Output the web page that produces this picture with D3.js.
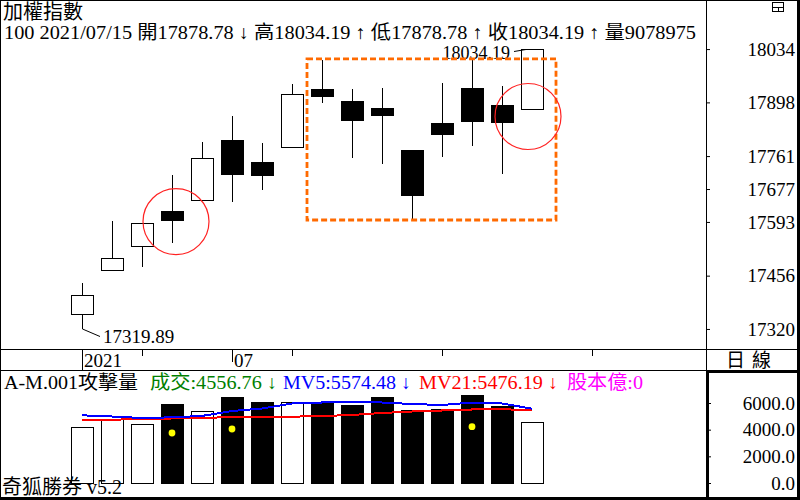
<!DOCTYPE html>
<html>
<head>
<meta charset="utf-8">
<script src="https://cdn.jsdelivr.net/npm/d3@7"></script>
<style>
  body { margin: 0; background: #fff; }
  svg text { font-family: "Liberation Serif", "Noto Sans CJK TC", serif; fill: #000; }
</style>
</head>
<body>
<div id="chart"></div>
<script>
// 日期 / K線資料 (加權指數)
const dates = ["2021/06/24","2021/06/25","2021/06/28","2021/06/29","2021/06/30","2021/07/01","2021/07/02","2021/07/05",
               "2021/07/06","2021/07/07","2021/07/08","2021/07/09","2021/07/12","2021/07/13","2021/07/14","2021/07/15"]
const openP  = [17357.4, 17469.7, 17530.9, 17620.9, 17648.2, 17799.5, 17745.9, 17783.4, 17929.6, 17901.5, 17881.2, 17776.5, 17842.9, 17932.2, 17891.3, 17878.78]
const highP  = [17436.5, 17595.4, 17590.3, 17712.8, 17797.0, 17863.3, 17794.4, 17944.9, 18006.1, 17932.2, 17934.7, 17776.5, 17947.5, 18006.1, 17939.8, 18034.19]
const lowP   = [17319.89, 17469.7, 17478.8, 17540.1, 17648.2, 17644.7, 17675.3, 17783.4, 17897.2, 17756.9, 17741.6, 17599.8, 17759.5, 17787.5, 17716.1, 17878.78]
const closeP = [17405.9, 17500.2, 17590.3, 17596.2, 17753.6, 17713.5, 17711.0, 17918.6, 17912.5, 17851.3, 17865.8, 17660.0, 17815.6, 17848.7, 17846.2, 18034.19]

// 成交量 (億) 與均量
const volume = [4177, 4750, 4425, 5925, 5375, 6450, 6075, 6050, 6025, 5850, 6450, 5475, 5550, 6600, 5775, 4556.76]
const mv5  = [5077, 4988, 4875, 4925, 5030, 5400, 5588, 5963, 6038, 6053, 6038, 5925, 5850, 6038, 5963, 5574.48]
const mv21 = [4748, 4755, 4778, 4838, 4875, 4950, 4965, 4973, 5025, 5100, 5250, 5363, 5438, 5513, 5528, 5476.19]
// 攻擊量 黃點
const attackDates  = ["2021/06/29", "2021/07/01", "2021/07/13"]
const attackValues = [3750, 4050, 4225]

// 座標刻度
const priceTicks  = [18034, 17898, 17761, 17677, 17593, 17456, 17320]
const volumeTicks = [6000, 4000, 2000, 0]
const axisDays    = [...dates, "2021/07/16", "2021/07/19"]   // 日期軸延伸到未來兩個交易日
const weekTicks   = ["2021/06/28", "2021/07/05", "2021/07/12", "2021/07/19"]
const monthTicks  = ["2021/06/24", "2021/07/01"]
const monthLabels = ["2021", "07"]

// 標註 (圈選 / 框選)
const circleDates  = ["2021/06/29", "2021/07/15"]
const circlePrices = [17594, 17862]
const boxDates  = ["2021/07/06", "2021/07/15"]
const boxPrices = [17598, 18009]

const W = 800, H = 500
const svg = d3.select("#chart").append("svg")
    .attr("width", W).attr("height", H)

const x  = d3.scalePoint().domain(axisDays).range([82, 592])
const y  = d3.scaleLinear().domain([17319.89, 18034.19]).range([329, 49])
const yv = d3.scaleLinear().domain([0, 6000]).range([483, 403])

const data = dates.map((d, i) => ({
    date: d, o: openP[i], h: highP[i], l: lowP[i], c: closeP[i], v: volume[i],
    up: closeP[i] >= openP[i]
}))

// ---- 外框 ----
const frame = svg.append("g").attr("shape-rendering", "crispEdges")
frame.append("line").attr("x1", 0.5).attr("x2", 0.5).attr("y1", 0).attr("y2", H).attr("stroke", "#000")
frame.append("line").attr("x1", 0).attr("x2", W).attr("y1", 0.5).attr("y2", 0.5).attr("stroke", "#000")
frame.append("rect").attr("x", 797).attr("y", 0).attr("width", 3).attr("height", H).attr("fill", "#000")
frame.append("rect").attr("x", 0).attr("y", 497).attr("width", W).attr("height", 3).attr("fill", "#000")
frame.append("line").attr("x1", 706.5).attr("x2", 706.5).attr("y1", 0).attr("y2", 370).attr("stroke", "#000")
frame.append("line").attr("x1", 0).attr("x2", W).attr("y1", 349.5).attr("y2", 349.5).attr("stroke", "#000")
frame.append("line").attr("x1", 0).attr("x2", W).attr("y1", 370.5).attr("y2", 370.5).attr("stroke", "#000")
frame.append("rect").attr("x", 706).attr("y", 370).attr("width", 3).attr("height", 130).attr("fill", "#000")
frame.append("rect").attr("x", 706).attr("y", 370).attr("width", 94).attr("height", 3).attr("fill", "#000")

// 右上角小圖示
frame.append("path")
    .attr("d", "M772.5,2.5H783.5V11.5H772.5Z M772.5,7.5H783.5 M778.5,7.5V11.5")
    .attr("fill", "none").attr("stroke", "#000")

// ---- 標題 ----
svg.append("text").attr("x", 3).attr("y", 19).attr("font-size", 20).text("加權指數")
const last = data[data.length - 1]
const f2 = d3.format(".2f")
const headParts = [
    ["100 " + last.date + " 開" + f2(last.o) + " ", false], ["↓", true],
    [" 高" + f2(last.h) + " ", false], ["↑", true],
    [" 低" + f2(last.l) + " ", false], ["↑", true],
    [" 收" + f2(last.c) + " ", false], ["↑", true],
    [" 量9078975", false]
]
svg.append("text").attr("x", 4).attr("y", 39).attr("font-size", 19)
    .attr("textLength", 692).attr("lengthAdjust", "spacingAndGlyphs")
    .selectAll("tspan").data(headParts).join("tspan")
    .attr("font-weight", d => d[1] ? "bold" : null)
    .text(d => d[0])

// ---- K線 ----
const kg = svg.append("g").attr("shape-rendering", "crispEdges")
kg.selectAll(".wick").data(data).join("line")
    .attr("class", "wick")
    .attr("x1", d => Math.round(x(d.date)) + 0.5)
    .attr("x2", d => Math.round(x(d.date)) + 0.5)
    .attr("y1", d => y(d.h))
    .attr("y2", d => y(d.l))
    .attr("stroke", "#000")
kg.selectAll(".body").data(data).join("rect")
    .attr("class", "body")
    .attr("x", d => Math.round(x(d.date)) - 10.5)
    .attr("width", 22)
    .attr("y", d => y(Math.max(d.o, d.c)))
    .attr("height", d => Math.max(2, Math.abs(y(d.o) - y(d.c))))
    .attr("fill", d => d.up ? "#fff" : "#000")
    .attr("stroke", "#000")

// 最低 / 最高 標示
const lowest = data[d3.minIndex(data, d => d.l)]
const highest = data[d3.maxIndex(data, d => d.h)]
svg.append("path")
    .attr("d", `M${x(lowest.date) + 0.5},${y(lowest.l)}L${x(lowest.date) + 18},${y(lowest.l) + 7.5}`)
    .attr("stroke", "#000").attr("fill", "none")
svg.append("text").attr("x", x(lowest.date) + 21).attr("y", y(lowest.l) + 14).attr("font-size", 19)
    .text(f2(lowest.l))
svg.append("path")
    .attr("d", `M${x(highest.date) - 18},${y(highest.h) + 2.5}L${x(highest.date) - 6},${y(highest.h) + 0.5}`)
    .attr("stroke", "#000").attr("fill", "none")
svg.append("text").attr("x", x(highest.date) - 22).attr("y", y(highest.h) + 10).attr("font-size", 18)
    .attr("text-anchor", "end")
    .text(f2(highest.h))

// 標註
svg.append("rect")
    .attr("x", x(boxDates[0]) - 15).attr("y", y(boxPrices[1]))
    .attr("width", x(boxDates[1]) + 24 - (x(boxDates[0]) - 15))
    .attr("height", y(boxPrices[0]) - y(boxPrices[1]))
    .attr("fill", "none").attr("stroke", "#ff6a00").attr("stroke-width", 2.8)
    .attr("stroke-dasharray", "6,3")
svg.selectAll(".mark").data(circleDates).join("circle")
    .attr("class", "mark")
    .attr("cx", (d, i) => x(d) + (i === 0 ? 4 : -4))
    .attr("cy", (d, i) => y(circlePrices[i]))
    .attr("r", 33)
    .attr("fill", "none").attr("stroke", "#f22").attr("stroke-width", 1.2)

// ---- 價格軸 ----
const yAxis = svg.append("g").attr("transform", "translate(706,0)")
    .call(d3.axisRight(y).tickValues(priceTicks).tickSize(4).tickFormat(d3.format("d")))
yAxis.select(".domain").remove()
yAxis.selectAll("text").attr("x", 89).attr("text-anchor", "end")
    .attr("font-size", 19).attr("font-family", null)

// ---- 日期軸 ----
const dg = svg.append("g").attr("shape-rendering", "crispEdges")
dg.selectAll(".wk").data(weekTicks).join("line")
    .attr("x1", d => Math.round(x(d)) + 0.5).attr("x2", d => Math.round(x(d)) + 0.5)
    .attr("y1", 350).attr("y2", 356).attr("stroke", "#000")
dg.selectAll(".mo").data(monthTicks).join("line")
    .attr("x1", d => Math.round(x(d)) + 0.5).attr("x2", d => Math.round(x(d)) + 0.5)
    .attr("y1", 350).attr("y2", (d, i) => i === 0 ? 370 : 362).attr("stroke", "#000")
svg.selectAll(".molab").data(monthTicks).join("text")
    .attr("x", d => x(d) + 2).attr("y", 367).attr("font-size", 19)
    .text((d, i) => monthLabels[i])
svg.append("text").attr("x", 726).attr("y", 367).attr("font-size", 19)
    .attr("textLength", 45).attr("lengthAdjust", "spacing").text("日線")

// ---- 成交量 ----
const vh = [
    {t: "A-M.001攻擊量", x: 4, w: 134, c: "#000"},
    {t: `成交:${f2(last.v)} ↓`, x: 150, w: 127, c: "#008000"},
    {t: `MV5:${f2(mv5[mv5.length - 1])} ↓`, x: 283, w: 128, c: "#0000ff"},
    {t: `MV21:${f2(mv21[mv21.length - 1])} ↓`, x: 419, w: 139, c: "#ff0000"},
    {t: "股本億:0", x: 567, w: 76, c: "#ff00ff"}
]
svg.selectAll(".vh").data(vh).join("text")
    .attr("x", d => d.x).attr("y", 389).attr("font-size", 19)
    .attr("textLength", d => d.w).attr("lengthAdjust", "spacingAndGlyphs")
    .style("fill", d => d.c).text(d => d.t)

const vg = svg.append("g").attr("shape-rendering", "crispEdges")
vg.selectAll(".vol").data(data).join("rect")
    .attr("x", d => Math.round(x(d.date)) - 10.5)
    .attr("width", 22)
    .attr("y", d => yv(d.v))
    .attr("height", d => yv(0) - yv(d.v))
    .attr("fill", d => d.up ? "#fff" : "#000")
    .attr("stroke", "#000")

const line = d3.line().x(d => x(d.date)).y(d => yv(d.v))
svg.append("path").datum(dates.map((d, i) => ({date: d, v: mv21[i]})))
    .attr("d", line).attr("fill", "none").attr("stroke", "#ff0000").attr("stroke-width", 2)
    .attr("shape-rendering", "crispEdges")
svg.append("path").datum(dates.map((d, i) => ({date: d, v: mv5[i]})))
    .attr("d", line).attr("fill", "none").attr("stroke", "#0000ff").attr("stroke-width", 2)
    .attr("shape-rendering", "crispEdges")

svg.selectAll(".atk").data(attackDates).join("circle")
    .attr("cx", d => x(d)).attr("cy", (d, i) => yv(attackValues[i]))
    .attr("r", 3.4).attr("fill", "#ffff00")

// 成交量軸
const vAxis = svg.append("g").attr("transform", "translate(706,0)")
    .call(d3.axisRight(yv).tickValues(volumeTicks).tickSize(5).tickFormat(d3.format(".1f")))
vAxis.select(".domain").remove()
vAxis.selectAll("text").attr("x", 89).attr("text-anchor", "end")
    .attr("font-size", 19).attr("font-family", null)

svg.append("text").attr("x", 2).attr("y", 494).attr("font-size", 20).text("奇狐勝券 v5.2")
</script>
</body>
</html>
